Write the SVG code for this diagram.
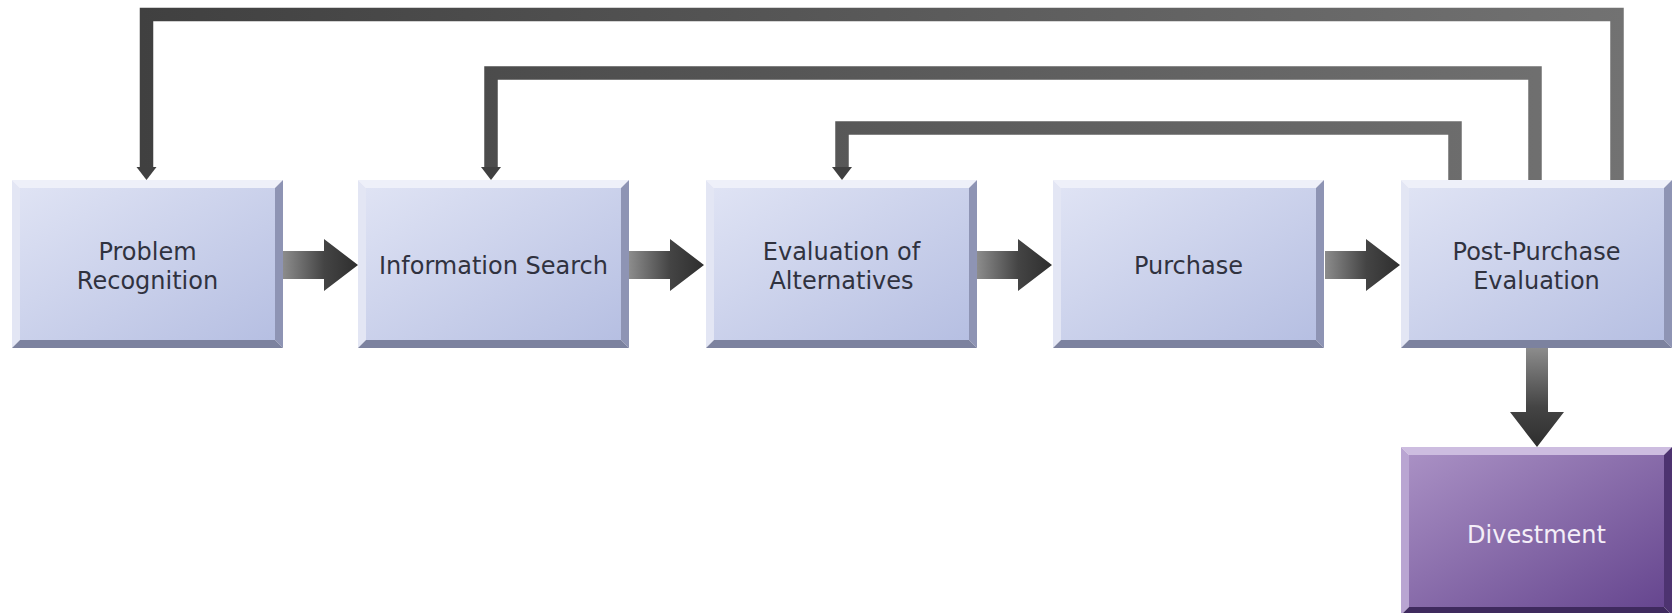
<svg xmlns="http://www.w3.org/2000/svg" xmlns:xlink="http://www.w3.org/1999/xlink" width="1675" height="613" viewBox="0 0 1675 613">
<style>
.lbl{font-family:"DejaVu Sans","Verdana",sans-serif;font-size:24px;fill:#30323f;text-anchor:middle}
.lblw{font-family:"DejaVu Sans","Verdana",sans-serif;font-size:24px;fill:#f4eef8;text-anchor:middle}
.fb{fill:none;stroke:url(#fbg);stroke-width:13.5;stroke-linejoin:miter}
.fbh{fill:#404040}
</style>
<defs>
<linearGradient id="face" x1="0" y1="0" x2="1" y2="1">
<stop offset="0" stop-color="#dfe3f4"/>
<stop offset="1" stop-color="#b6bfe2"/>
</linearGradient>
<linearGradient id="pface" x1="0" y1="0" x2="1" y2="1">
<stop offset="0" stop-color="#a990c4"/>
<stop offset="1" stop-color="#66468f"/>
</linearGradient>
<linearGradient id="harr" x1="0" y1="0" x2="1" y2="0">
<stop offset="0" stop-color="#8c8c8c"/>
<stop offset="0.55" stop-color="#444"/>
<stop offset="1" stop-color="#2e2e2e"/>
</linearGradient>
<linearGradient id="varr" x1="0" y1="0" x2="0" y2="1">
<stop offset="0" stop-color="#8c8c8c"/>
<stop offset="0.6" stop-color="#444"/>
<stop offset="1" stop-color="#2e2e2e"/>
</linearGradient>
<linearGradient id="fbg" gradientUnits="userSpaceOnUse" x1="140" y1="0" x2="1625" y2="0">
<stop offset="0" stop-color="#404040"/>
<stop offset="1" stop-color="#727272"/>
</linearGradient>
<g id="box">
<polygon points="0,0 271,0 263,8 8,8" fill="#eef0f9"/>
<polygon points="0,0 8,8 8,160 0,168" fill="#e3e6f4"/>
<polygon points="271,0 271,168 263,160 263,8" fill="#8e94b4"/>
<polygon points="0,168 271,168 263,160 8,160" fill="#7c829f"/>
<rect x="8" y="8" width="255" height="152" fill="url(#face)"/>
</g>
<g id="pbox">
<polygon points="0,0 271,0 263,8 8,8" fill="#cdbde0"/>
<polygon points="0,0 8,8 8,160 0,168" fill="#b9a5d2"/>
<polygon points="271,0 271,168 263,160 263,8" fill="#4d3370"/>
<polygon points="0,168 271,168 263,160 8,160" fill="#3f2a5e"/>
<rect x="8" y="8" width="255" height="152" fill="url(#pface)"/>
</g>
<path id="rarrow" d="M0,-14 H41 V-26 L75,0 L41,26 V14 H0 Z" fill="url(#harr)"/>
</defs>

<g id="connectors">
<path class="fb" d="M1617,180 V14.5 H146.5 V168"/>
<polygon class="fbh" points="136.5,167 156.5,167 146.5,180"/>
<path class="fb" d="M1535,180 V73 H491 V168"/>
<polygon class="fbh" points="481,167 501,167 491,180"/>
<path class="fb" d="M1455,180 V128 H842 V168"/>
<polygon class="fbh" points="832,167 852,167 842,180"/>
<use xlink:href="#rarrow" transform="translate(283,265)"/>
<use xlink:href="#rarrow" transform="translate(629,265)"/>
<use xlink:href="#rarrow" transform="translate(977,265)"/>
<use xlink:href="#rarrow" transform="translate(1325,265)"/>
<path d="M1526,348 H1548 V412 H1564 L1537,447 L1510,412 H1526 Z" fill="url(#varr)"/>
</g>

<g id="problem-recognition">
<use xlink:href="#box" transform="translate(12,180)"/>
<text class="lbl" x="147.5" y="260">Problem</text>
<text class="lbl" x="147.5" y="289">Recognition</text>
</g>
<g id="information-search">
<use xlink:href="#box" transform="translate(358,180)"/>
<text class="lbl" x="493.5" y="274">Information Search</text>
</g>
<g id="evaluation-of-alternatives">
<use xlink:href="#box" transform="translate(706,180)"/>
<text class="lbl" x="841.5" y="260">Evaluation of</text>
<text class="lbl" x="841.5" y="289">Alternatives</text>
</g>
<g id="purchase">
<use xlink:href="#box" transform="translate(1053,180)"/>
<text class="lbl" x="1188.5" y="274">Purchase</text>
</g>
<g id="post-purchase-evaluation">
<use xlink:href="#box" transform="translate(1401,180)"/>
<text class="lbl" x="1536.5" y="260">Post-Purchase</text>
<text class="lbl" x="1536.5" y="289">Evaluation</text>
</g>
<g id="divestment">
<use xlink:href="#pbox" transform="translate(1401,447)"/>
<text class="lblw" x="1536.5" y="543">Divestment</text>
</g>
</svg>
